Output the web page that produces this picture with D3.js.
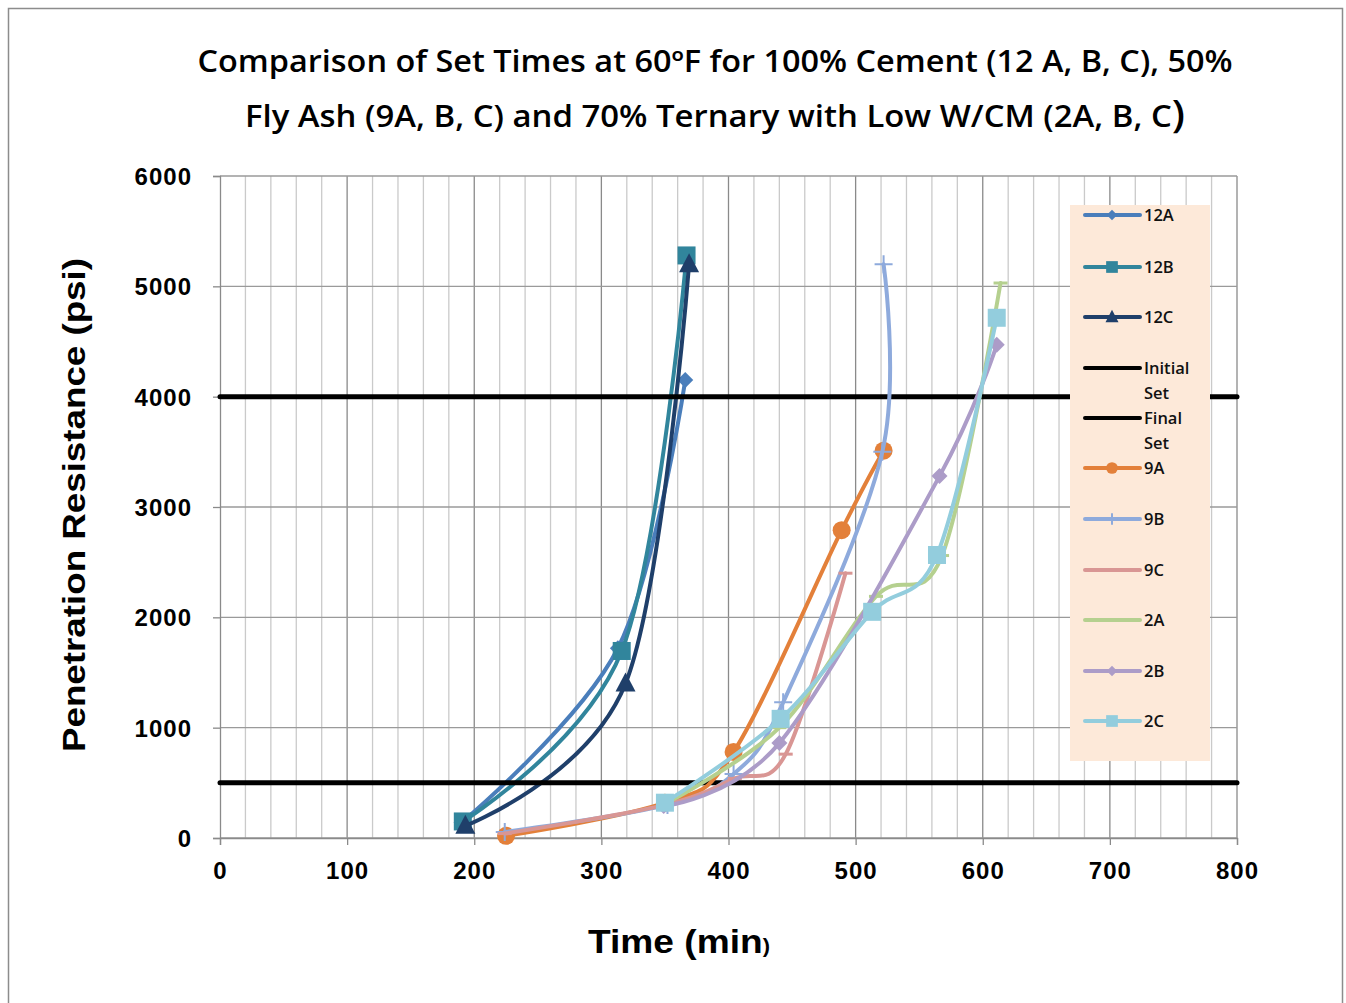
<!DOCTYPE html>
<html><head><meta charset="utf-8">
<script src="https://cdn.jsdelivr.net/npm/d3@7/dist/d3.min.js"></script>
<style>body{margin:0;background:#fff}svg{display:block}</style>
</head><body>
<svg id="c" width="1346" height="1003"></svg>
<script>
// ---- data ----
const xTicks = [0,100,200,300,400,500,600,700,800];
const yTicks = [0,1000,2000,3000,4000,5000,6000];
const seriesNames = ["12A","12B","12C","Initial Set","Final Set","9A","9B","9C","2A","2B","2C"];
const t12A = [190, 313, 366];      const p12A = [140, 1720, 4150];
const t12B = [191, 316, 367];      const p12B = [150, 1695, 5280];
const t12C = [193, 319, 369];      const p12C = [110, 1400, 5200];
const tInit = [0, 800];            const pInit = [500, 500];
const tFinal = [0, 800];           const pFinal = [4000, 4000];
const t9A = [225, 350, 404, 489, 522];        const p9A = [20, 320, 780, 2790, 3510];
const t9B = [224, 352, 404, 443, 521, 522];   const p9B = [55, 300, 580, 1230, 3500, 5200];
const t9C = [224, 350, 405, 445, 492];        const p9C = [40, 300, 540, 760, 2400];
const t2A = [350, 440, 516, 568, 614];        const p2A = [310, 1000, 2190, 2560, 5030];
const t2B = [349, 440, 566, 611];             const p2B = [290, 860, 3280, 4470];
const t2C = [350, 441, 513, 564, 611];        const p2C = [320, 1080, 2050, 2565, 4715];
const colors = ["#4a7ebb","#31859c","#1f3f6a","#000000","#000000","#e3803a","#8eaadc","#d99694","#b5d08f","#ac9cc8","#93cddd"];
const markers = ["diamond","square","triangle",null,null,"circle","plus","dash","dash","diamond","square"];
const times = [t12A,t12B,t12C,tInit,tFinal,t9A,t9B,t9C,t2A,t2B,t2C];
const vals  = [p12A,p12B,p12C,pInit,pFinal,p9A,p9B,p9C,p2A,p2B,p2C];

// ---- layout ----
const svg = d3.select("#c");
const L=220, R=1237, T=176, B=838;
const x = d3.scaleLinear().domain([0,800]).range([L,R]);
const y = d3.scaleLinear().domain([0,6000]).range([B,T]);

svg.append("rect").attr("x",8.5).attr("y",8.5).attr("width",1334).attr("height",1010)
  .attr("fill","#fff").attr("stroke","#8c8c8c").attr("stroke-width",1.5);

// grid
const g = svg.append("g");
d3.range(20,801,20).forEach(v=>{
  const major = v%100===0;
  g.append("line").attr("x1",x(v)).attr("x2",x(v)).attr("y1",T).attr("y2",B)
    .attr("stroke", major?"#8a8a8a":"#cacaca").attr("stroke-width",1.3);
});
yTicks.forEach(v=>{
  g.append("line").attr("x1",L).attr("x2",R).attr("y1",y(v)).attr("y2",y(v))
    .attr("stroke","#9a9a9a").attr("stroke-width",1.3);
});

// axes
const xa = svg.append("g").attr("transform",`translate(0,${B})`)
  .call(d3.axisBottom(x).tickValues(xTicks).tickSize(7).tickPadding(12).tickFormat(d3.format("d")));
const ya = svg.append("g").attr("transform",`translate(${L},0)`)
  .call(d3.axisLeft(y).tickValues(yTicks).tickSize(7).tickPadding(21).tickFormat(d3.format("d")));
[xa,ya].forEach(a=>{
  a.select(".domain").attr("stroke","#8a8a8a").attr("stroke-width",1.3);
  a.selectAll(".tick line").attr("stroke","#8a8a8a").attr("stroke-width",1.3);
  a.selectAll("text").attr("font-family","Liberation Sans, Arial, sans-serif")
    .attr("font-weight","bold").attr("font-size",24).attr("letter-spacing","1px").attr("fill","#000");
});
xa.selectAll("text").attr("dy","0.9em");
ya.selectAll("text").attr("dy","0.36em");

// series
const line = d3.line().x(d=>x(d[0])).y(d=>y(d[1])).curve(d3.curveCardinal.tension(0));
const plot = svg.append("g");
function drawMarker(sel, type, cx, cy, color, k){
  k = k||1;
  if(type==="diamond"){
    const s=8*k;
    sel.append("path").attr("d",`M${cx},${cy-s}L${cx+s},${cy}L${cx},${cy+s}L${cx-s},${cy}Z`).attr("fill",color);
  } else if(type==="square"){
    const s=9*k;
    sel.append("rect").attr("x",cx-s).attr("y",cy-s).attr("width",2*s).attr("height",2*s).attr("fill",color);
  } else if(type==="triangle"){
    const s=10*k;
    sel.append("path").attr("d",`M${cx},${cy-1.1*s}L${cx+s},${cy+0.8*s}L${cx-s},${cy+0.8*s}Z`).attr("fill",color);
  } else if(type==="circle"){
    sel.append("circle").attr("cx",cx).attr("cy",cy).attr("r",9*k).attr("fill",color);
  } else if(type==="plus"){
    const s=9*k;
    sel.append("path").attr("d",`M${cx-s},${cy}H${cx+s}M${cx},${cy-s}V${cy+s}`).attr("stroke",color).attr("stroke-width",2);
  } else if(type==="dash"){
    sel.append("path").attr("d",`M${cx-7},${cy}H${cx+7}`).attr("stroke",color).attr("stroke-width",3);
  }
}
seriesNames.forEach((name,i)=>{
  const pts = times[i].map((t,j)=>[t,vals[i][j]]);
  const ref = i===3||i===4;
  plot.append("path").attr("d", ref ? d3.line().x(d=>x(d[0])).y(d=>y(d[1]))(pts) : line(pts))
    .attr("fill","none").attr("stroke",colors[i]).attr("stroke-width",ref?5:4).attr("stroke-linejoin","round").attr("stroke-linecap","round");
  if(markers[i]) pts.forEach(p=>drawMarker(plot, markers[i], x(p[0]), y(p[1]), colors[i], 1));
});

// legend
const lg = svg.append("g");
lg.append("rect").attr("x",1070).attr("y",205).attr("width",140).attr("height",556).attr("fill","#fde9d9");
const legY = [215,267,317,368,418,468,519,570,620,671,721];
seriesNames.forEach((name,i)=>{
  const yy = legY[i];
  lg.append("line").attr("x1",1085).attr("x2",1140).attr("y1",yy).attr("y2",yy)
    .attr("stroke",colors[i]).attr("stroke-width",4).attr("stroke-linecap","round");
  if(markers[i] && markers[i]!=="dash") drawMarker(lg, markers[i], 1112, yy, colors[i], 0.65);
  const parts = name.split(" ");
  const tx = lg.append("text").attr("x",1144).attr("y",yy+6)
    .attr("font-family","Open Sans, sans-serif").attr("font-size",16.5).attr("font-weight",600).attr("fill","#111");
  parts.forEach((p,k)=>tx.append("tspan").attr("x",1144).attr("dy",k===0?0:25).text(p));
});

// titles
const tf = "Open Sans, sans-serif";
svg.append("text").attr("x",715).attr("y",72).attr("text-anchor","middle")
  .attr("font-family",tf).attr("font-weight",600).attr("font-size",30)
  .attr("textLength",1035).attr("lengthAdjust","spacingAndGlyphs")
  .text("Comparison of Set Times at 60ºF for 100% Cement (12 A, B, C), 50%");
const t2 = svg.append("text").attr("x",715).attr("y",127).attr("text-anchor","middle")
  .attr("font-family",tf).attr("font-weight",600).attr("font-size",30)
  .attr("textLength",940).attr("lengthAdjust","spacingAndGlyphs");
t2.append("tspan").text("Fly Ash (9A, B, C) and 70% Ternary with Low W/CM (2A, B, C");
t2.append("tspan").attr("font-size",38).text(")");

svg.append("text").attr("transform","translate(85,505) rotate(-90)").attr("text-anchor","middle")
  .attr("font-family","Liberation Sans, Arial, sans-serif").attr("font-weight","bold").attr("font-size",31)
  .attr("textLength",494).attr("lengthAdjust","spacingAndGlyphs")
  .text("Penetration Resistance (psi)");
const xl = svg.append("text").attr("x",679).attr("y",953).attr("text-anchor","middle")
  .attr("font-family","Liberation Sans, Arial, sans-serif").attr("font-weight","bold").attr("font-size",34)
  .attr("textLength",182).attr("lengthAdjust","spacingAndGlyphs");
xl.append("tspan").text("Time (min");
xl.append("tspan").attr("font-size",20).text(")");
</script>
</body></html>
